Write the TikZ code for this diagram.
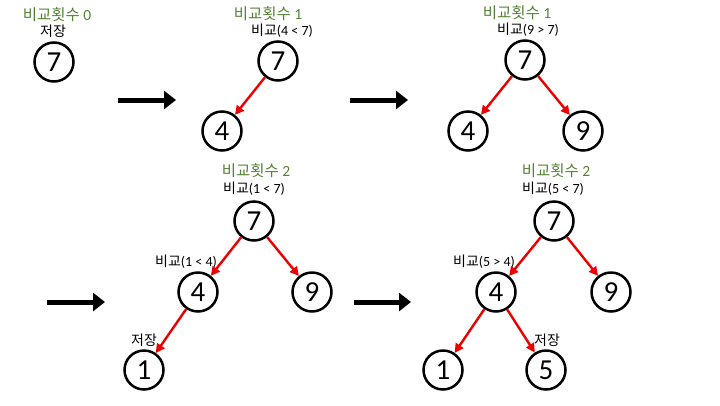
\documentclass[tikz,border=0pt]{standalone}
\usepackage{fontspec}
\setmainfont{Carlito}
\newfontfamily\kr{Noto Sans CJK KR}
\usetikzlibrary{arrows.meta}
\definecolor{cntgreen}{RGB}{84,130,53}
\definecolor{cmpred}{RGB}{235,0,0}

\begin{document}
\begin{tikzpicture}[x=1pt,y=-1pt,
  num/.style={circle,draw,line width=2.5pt,minimum size=39pt,inner sep=0pt,font=\fontsize{29}{29}\selectfont},
  cnt/.style={text=cntgreen,inner sep=0pt,font=\fontsize{15.5}{16}\selectfont},
  lbl/.style={inner sep=0pt,font=\fontsize{14}{15}\selectfont},
  cmp/.style={cmpred,line width=2.4pt,-{Triangle[length=9pt,width=9pt]}},
  stepto/.style={line width=5pt,-{Triangle[length=12pt,width=18pt]}}]
  \useasboundingbox (0,0) rectangle (720,405);
  % first: store 7
  \node[num] (a7) at (54,62) {7};
  \node[cnt] (acnt) at (57,15) {{\kr 비교횟수} 0};
  \node[lbl] (asave) at (53,31) {\kr 저장};
  % second: 4 < 7
  \node[num] (b7) at (278,61) {7};
  \node[num] (b4) at (222,131) {4};
  \node[cnt] (bcnt) at (268,14) {{\kr 비교횟수} 1};
  \node[lbl] (bcmp) at (282,31) {{\kr 비교}(4 < 7)};
  \draw[cmp] (b7) -- (b4);
  % third: 9 > 7
  \node[num] (c7) at (525,60) {7};
  \node[num] (c4) at (468,131) {4};
  \node[num] (c9) at (583,131) {9};
  \node[cnt] (ccnt) at (517,13) {{\kr 비교횟수} 1};
  \node[lbl] (ccmp) at (528,30) {{\kr 비교}(9 > 7)};
  \draw[cmp] (c7) -- (c4);
  \draw[cmp] (c7) -- (c9);
  % fourth: insert 1
  \node[num] (d7) at (254,221) {7};
  \node[num] (d4) at (198,292) {4};
  \node[num] (d9) at (312,292) {9};
  \node[num] (d1) at (144,370) {1};
  \node[cnt] (dcnt) at (256,171) {{\kr 비교횟수} 2};
  \node[lbl] (dcmp) at (254,189) {{\kr 비교}(1 < 7)};
  \node[lbl] (dcmpb) at (186,262) {{\kr 비교}(1 < 4)};
  \node[lbl] (dsave) at (144,340) {\kr 저장};
  \draw[cmp] (d7) -- (d4);
  \draw[cmp] (d7) -- (d9);
  \draw[cmp] (d4) -- (d1);
  % fifth: insert 5
  \node[num] (e7) at (554,221) {7};
  \node[num] (e4) at (496,292) {4};
  \node[num] (e9) at (611,292) {9};
  \node[num] (e1) at (443,370) {1};
  \node[num] (e5) at (546,370) {5};
  \node[cnt] (ecnt) at (556,171) {{\kr 비교횟수} 2};
  \node[lbl] (ecmp) at (553,189) {{\kr 비교}(5 < 7)};
  \node[lbl] (ecmpb) at (484,262) {{\kr 비교}(5 > 4)};
  \node[lbl] (esave) at (547,340) {\kr 저장};
  \draw[cmp] (e7) -- (e4);
  \draw[cmp] (e7) -- (e9);
  \draw[cmp] (e4) -- (e1);
  \draw[cmp] (e4) -- (e5);
  % steps between stages
  \coordinate (s1a) at (118,100); \coordinate (s1b) at (176,100);
  \coordinate (s2a) at (350,100); \coordinate (s2b) at (408,100);
  \coordinate (s3a) at (47,302);  \coordinate (s3b) at (105,302);
  \coordinate (s4a) at (354,302); \coordinate (s4b) at (411,302);
  \draw[stepto] (s1a) -- (s1b);
  \draw[stepto] (s2a) -- (s2b);
  \draw[stepto] (s3a) -- (s3b);
  \draw[stepto] (s4a) -- (s4b);
\end{tikzpicture}
\end{document}
